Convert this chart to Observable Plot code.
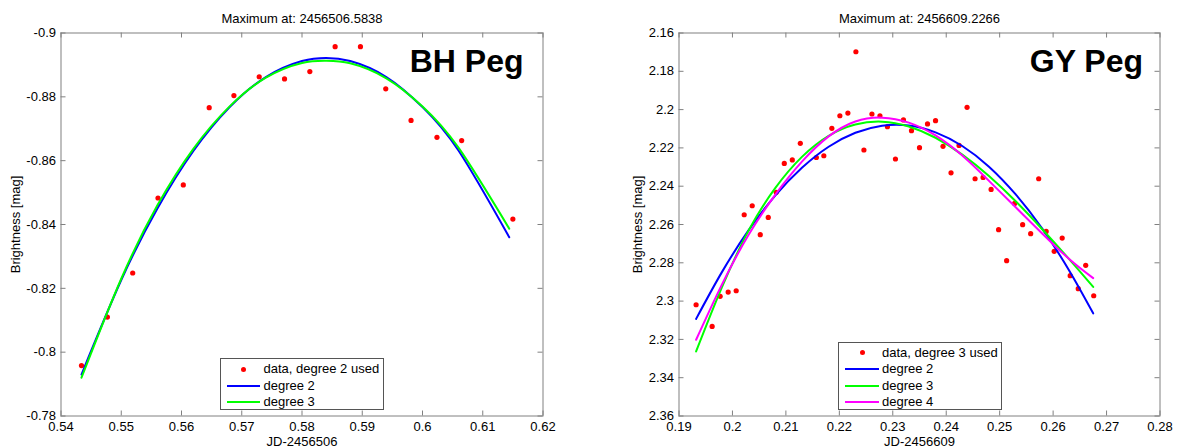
<!DOCTYPE html>
<html>
<head>
<meta charset="utf-8">
<script src="https://cdn.jsdelivr.net/npm/d3@7"></script>
<script src="https://cdn.jsdelivr.net/npm/@observablehq/plot@0.6"></script>
<style>
  body { margin: 0; background: #fff; }
  #wrap { position: relative; width: 1182px; height: 448px; overflow: hidden; background: #fff;
          font-family: "Liberation Sans", Arial, Helvetica, sans-serif; }
  .panel { position: absolute; top: 0; }
  .lgbox { position: absolute; background: #fff; border: 1px solid #555; box-sizing: border-box; }
  .lgline { position: absolute; height: 2px; }
  .lgdot { position: absolute; width: 5px; height: 5px; border-radius: 50%; }
  .lgtext { position: absolute; height: 16px; line-height: 16px; font-size: 13px; color: #000; white-space: nowrap; }
</style>
</head>
<body>
<div id="wrap"></div>
<script>
// ---------------- BH Peg (left panel) ----------------
const bhTitle  = "Maximum at: 2456506.5838";
const bhName   = "BH Peg";
const bhXLabel = "JD-2456506";
const bhYLabel = "Brightness [mag]";
const bhJD  = [0.5434, 0.5477, 0.5519, 0.5561, 0.5603, 0.5646, 0.5687, 0.5729, 0.5771,
               0.5813, 0.5855, 0.5897, 0.5939, 0.5981, 0.6024, 0.6065, 0.6150];
const bhMag = [-0.7958, -0.8110, -0.8248, -0.8483, -0.8524, -0.8766, -0.8804, -0.8863, -0.8856,
               -0.8879, -0.8957, -0.8957, -0.8825, -0.8726, -0.8673, -0.8663, -0.8417];
const bhFitJD = [0.5434, 0.550, 0.556, 0.562, 0.568, 0.574, 0.580, 0.584, 0.588, 0.594, 0.600, 0.606, 0.6144];
const bhDeg2  = [-0.7930, -0.8226, -0.8450, -0.8631, -0.8768, -0.8862, -0.8912, -0.8922, -0.8912, -0.8862, -0.8768, -0.8631, -0.8360];
const bhDeg3  = [-0.7920, -0.8230, -0.8460, -0.8638, -0.8770, -0.8860, -0.8906, -0.8913, -0.8905, -0.8858, -0.8770, -0.8640, -0.8387];
const bhXTicks = [0.54, 0.55, 0.56, 0.57, 0.58, 0.59, 0.60, 0.61, 0.62];
const bhYTicks = [-0.90, -0.88, -0.86, -0.84, -0.82, -0.80, -0.78];
const bhLegend = ["data, degree 2 used", "degree 2", "degree 3"];

// ---------------- GY Peg (right panel) ----------------
const gyTitle  = "Maximum at: 2456609.2266";
const gyName   = "GY Peg";
const gyXLabel = "JD-2456609";
const gyYLabel = "Brightness [mag]";
const gyJD  = [0.1932, 0.1962, 0.1977, 0.1992, 0.2007, 0.2022, 0.2037, 0.2052, 0.2067, 0.2082,
               0.2097, 0.2112, 0.2127, 0.2157, 0.2171, 0.2186, 0.2201, 0.2216, 0.2231, 0.2246,
               0.2261, 0.2276, 0.2290, 0.2305, 0.2320, 0.2335, 0.2350, 0.2365, 0.2380, 0.2394,
               0.2409, 0.2424, 0.2439, 0.2454, 0.2469, 0.2484, 0.2498, 0.2513, 0.2528, 0.2543,
               0.2558, 0.2573, 0.2587, 0.2602, 0.2617, 0.2632, 0.2647, 0.2661, 0.2676];
const gyMag = [2.3019, 2.3132, 2.2975, 2.2953, 2.2946, 2.2549, 2.2502, 2.2653, 2.2563, 2.2432,
               2.2281, 2.2263, 2.2176, 2.2250, 2.2241, 2.2098, 2.2032, 2.2018, 2.1698, 2.2211,
               2.2023, 2.2032, 2.2089, 2.2258, 2.2054, 2.2110, 2.2199, 2.2075, 2.2058, 2.2192,
               2.2330, 2.2187, 2.1988, 2.2361, 2.2354, 2.2417, 2.2627, 2.2789, 2.2490, 2.2601,
               2.2648, 2.2361, 2.2636, 2.2740, 2.2671, 2.2867, 2.2935, 2.2813, 2.2972];
const gyFitJD = [0.1932, 0.198, 0.203, 0.208, 0.213, 0.218, 0.223, 0.228, 0.233, 0.238, 0.243, 0.248, 0.253, 0.258, 0.263, 0.2675];
const gyDeg2  = [2.3093, 2.2850, 2.2631, 2.2449, 2.2304, 2.2194, 2.2121, 2.2084, 2.2083, 2.2119, 2.2190, 2.2298, 2.2443, 2.2623, 2.2840, 2.3064];
const gyDeg3  = [2.3263, 2.2930, 2.2633, 2.2410, 2.2247, 2.2137, 2.2078, 2.2063, 2.2088, 2.2147, 2.2235, 2.2347, 2.2479, 2.2626, 2.2781, 2.2926];
const gyDeg4  = [2.3202, 2.2915, 2.2655, 2.2445, 2.2272, 2.2140, 2.2062, 2.2042, 2.2068, 2.2135, 2.2240, 2.2372, 2.2510, 2.2648, 2.2780, 2.2880];
const gyXTicks = [0.19, 0.20, 0.21, 0.22, 0.23, 0.24, 0.25, 0.26, 0.27, 0.28];
const gyYTicks = [2.16, 2.18, 2.20, 2.22, 2.24, 2.26, 2.28, 2.30, 2.32, 2.34, 2.36];
const gyLegend = ["data, degree 3 used", "degree 2", "degree 3", "degree 4"];

// ---------------- styles ----------------
const colData = "#ff0000";
const fitColors = ["#0000ff", "#00ff00", "#ff00ff"];
const axisGray = "#808080";
const fmt = d => String(+d.toFixed(4));

const wrap = document.getElementById("wrap");

function panel(cfg) {
  const H = 448, mTop = 32.5, mBottom = 32.5;
  const frameH = H - mTop - mBottom;
  const frameW = cfg.width - cfg.mLeft - cfg.mRight;
  const pts = cfg.jd.map((x, i) => ({x, y: cfg.mag[i]}));
  const fitMarks = cfg.fits.map((ys, k) =>
    Plot.line(cfg.fitX.map((x, i) => ({x, y: ys[i]})),
      {x: "x", y: "y", stroke: fitColors[k], strokeWidth: 2, curve: "natural"}));
  const chart = Plot.plot({
    width: cfg.width, height: H,
    marginLeft: cfg.mLeft, marginRight: cfg.mRight, marginTop: mTop, marginBottom: mBottom,
    x: {domain: cfg.xDomain},
    y: {domain: cfg.yDomain, reverse: true},
    style: {fontFamily: '"Liberation Sans", Arial, Helvetica, sans-serif', fontSize: "13px", color: "#000", background: "transparent"},
    marks: [
      Plot.dot(pts, {x: "x", y: "y", r: 2.6, fill: colData, stroke: "none"}),
      ...fitMarks,
      Plot.frame({stroke: axisGray}),
      Plot.tickX(cfg.xTicks, {x: d => d, stroke: axisGray, insetBottom: frameH - 5}),
      Plot.tickX(cfg.xTicks, {x: d => d, stroke: axisGray, insetTop: frameH - 5}),
      Plot.tickY(cfg.yTicks, {y: d => d, stroke: axisGray, insetRight: frameW - 5}),
      Plot.tickY(cfg.yTicks, {y: d => d, stroke: axisGray, insetLeft: frameW - 5}),
      Plot.axisX({anchor: "bottom", ticks: cfg.xTicks, tickSize: 0, tickPadding: 6, tickFormat: fmt, label: null, fontSize: 13}),
      Plot.axisY({anchor: "left", ticks: cfg.yTicks, tickSize: 0, tickPadding: 5, tickFormat: fmt, label: null, fontSize: 13}),
      Plot.text([cfg.title], {text: d => d, frameAnchor: "top", dy: -14.2, fontSize: 13, lineAnchor: "middle"}),
      Plot.text([cfg.xlabel], {text: d => d, frameAnchor: "bottom", dy: 26, fontSize: 13, lineAnchor: "middle"}),
      Plot.text([cfg.ylabel], {text: d => d, frameAnchor: "left", dx: cfg.ylabelDx, rotate: -90, fontSize: 13, lineAnchor: "middle", textAnchor: "middle"}),
      Plot.text([cfg.name], {text: d => d, frameAnchor: "top-right", dx: cfg.nameDx, dy: 15.8, fontSize: 32, fontWeight: "bold", textAnchor: "end", lineAnchor: "top"})
    ]
  });
  chart.classList.add("panel");
  chart.style.left = cfg.left + "px";
  wrap.appendChild(chart);
}

function legend(labels, L) {
  const box = document.createElement("div");
  box.className = "lgbox";
  Object.assign(box.style, {left: L.box[0] + "px", top: L.box[1] + "px", width: L.box[2] + "px", height: L.box[3] + "px"});
  wrap.appendChild(box);
  labels.forEach((lab, i) => {
    const y = L.rows[i];
    if (i === 0) {
      const d = document.createElement("div");
      d.className = "lgdot";
      Object.assign(d.style, {left: (L.dot - 2.5) + "px", top: (y - 2.5) + "px", background: colData});
      wrap.appendChild(d);
    } else {
      const l = document.createElement("div");
      l.className = "lgline";
      Object.assign(l.style, {left: L.line[0] + "px", width: (L.line[1] - L.line[0]) + "px", top: (y - 1) + "px", background: fitColors[i - 1]});
      wrap.appendChild(l);
    }
    const t = document.createElement("div");
    t.className = "lgtext";
    t.textContent = lab;
    Object.assign(t.style, {left: L.text + "px", top: (y - 8) + "px"});
    wrap.appendChild(t);
  });
}

panel({left: 0, width: 590, mLeft: 60.5, mRight: 47.5,
  jd: bhJD, mag: bhMag, fitX: bhFitJD, fits: [bhDeg2, bhDeg3],
  xDomain: [0.54, 0.62], yDomain: [-0.90, -0.78], xTicks: bhXTicks, yTicks: bhYTicks,
  title: bhTitle, xlabel: bhXLabel, ylabel: bhYLabel, name: bhName, nameDx: -19.5, ylabelDx: -45.5});

panel({left: 590, width: 592, mLeft: 88.5, mRight: 22.5,
  jd: gyJD, mag: gyMag, fitX: gyFitJD, fits: [gyDeg2, gyDeg3, gyDeg4],
  xDomain: [0.19, 0.28], yDomain: [2.16, 2.36], xTicks: gyXTicks, yTicks: gyYTicks,
  title: gyTitle, xlabel: gyXLabel, ylabel: gyYLabel, name: gyName, nameDx: -17, ylabelDx: -41});

legend(bhLegend, {box: [220, 358, 164, 52], rows: [369, 385.5, 401.7], line: [226.5, 260], dot: 243.5, text: 263.5});
legend(gyLegend, {box: [838, 342, 164, 68], rows: [352.5, 369, 385.5, 401.7], line: [845, 878.5], dot: 862, text: 882});
</script>
</body>
</html>
